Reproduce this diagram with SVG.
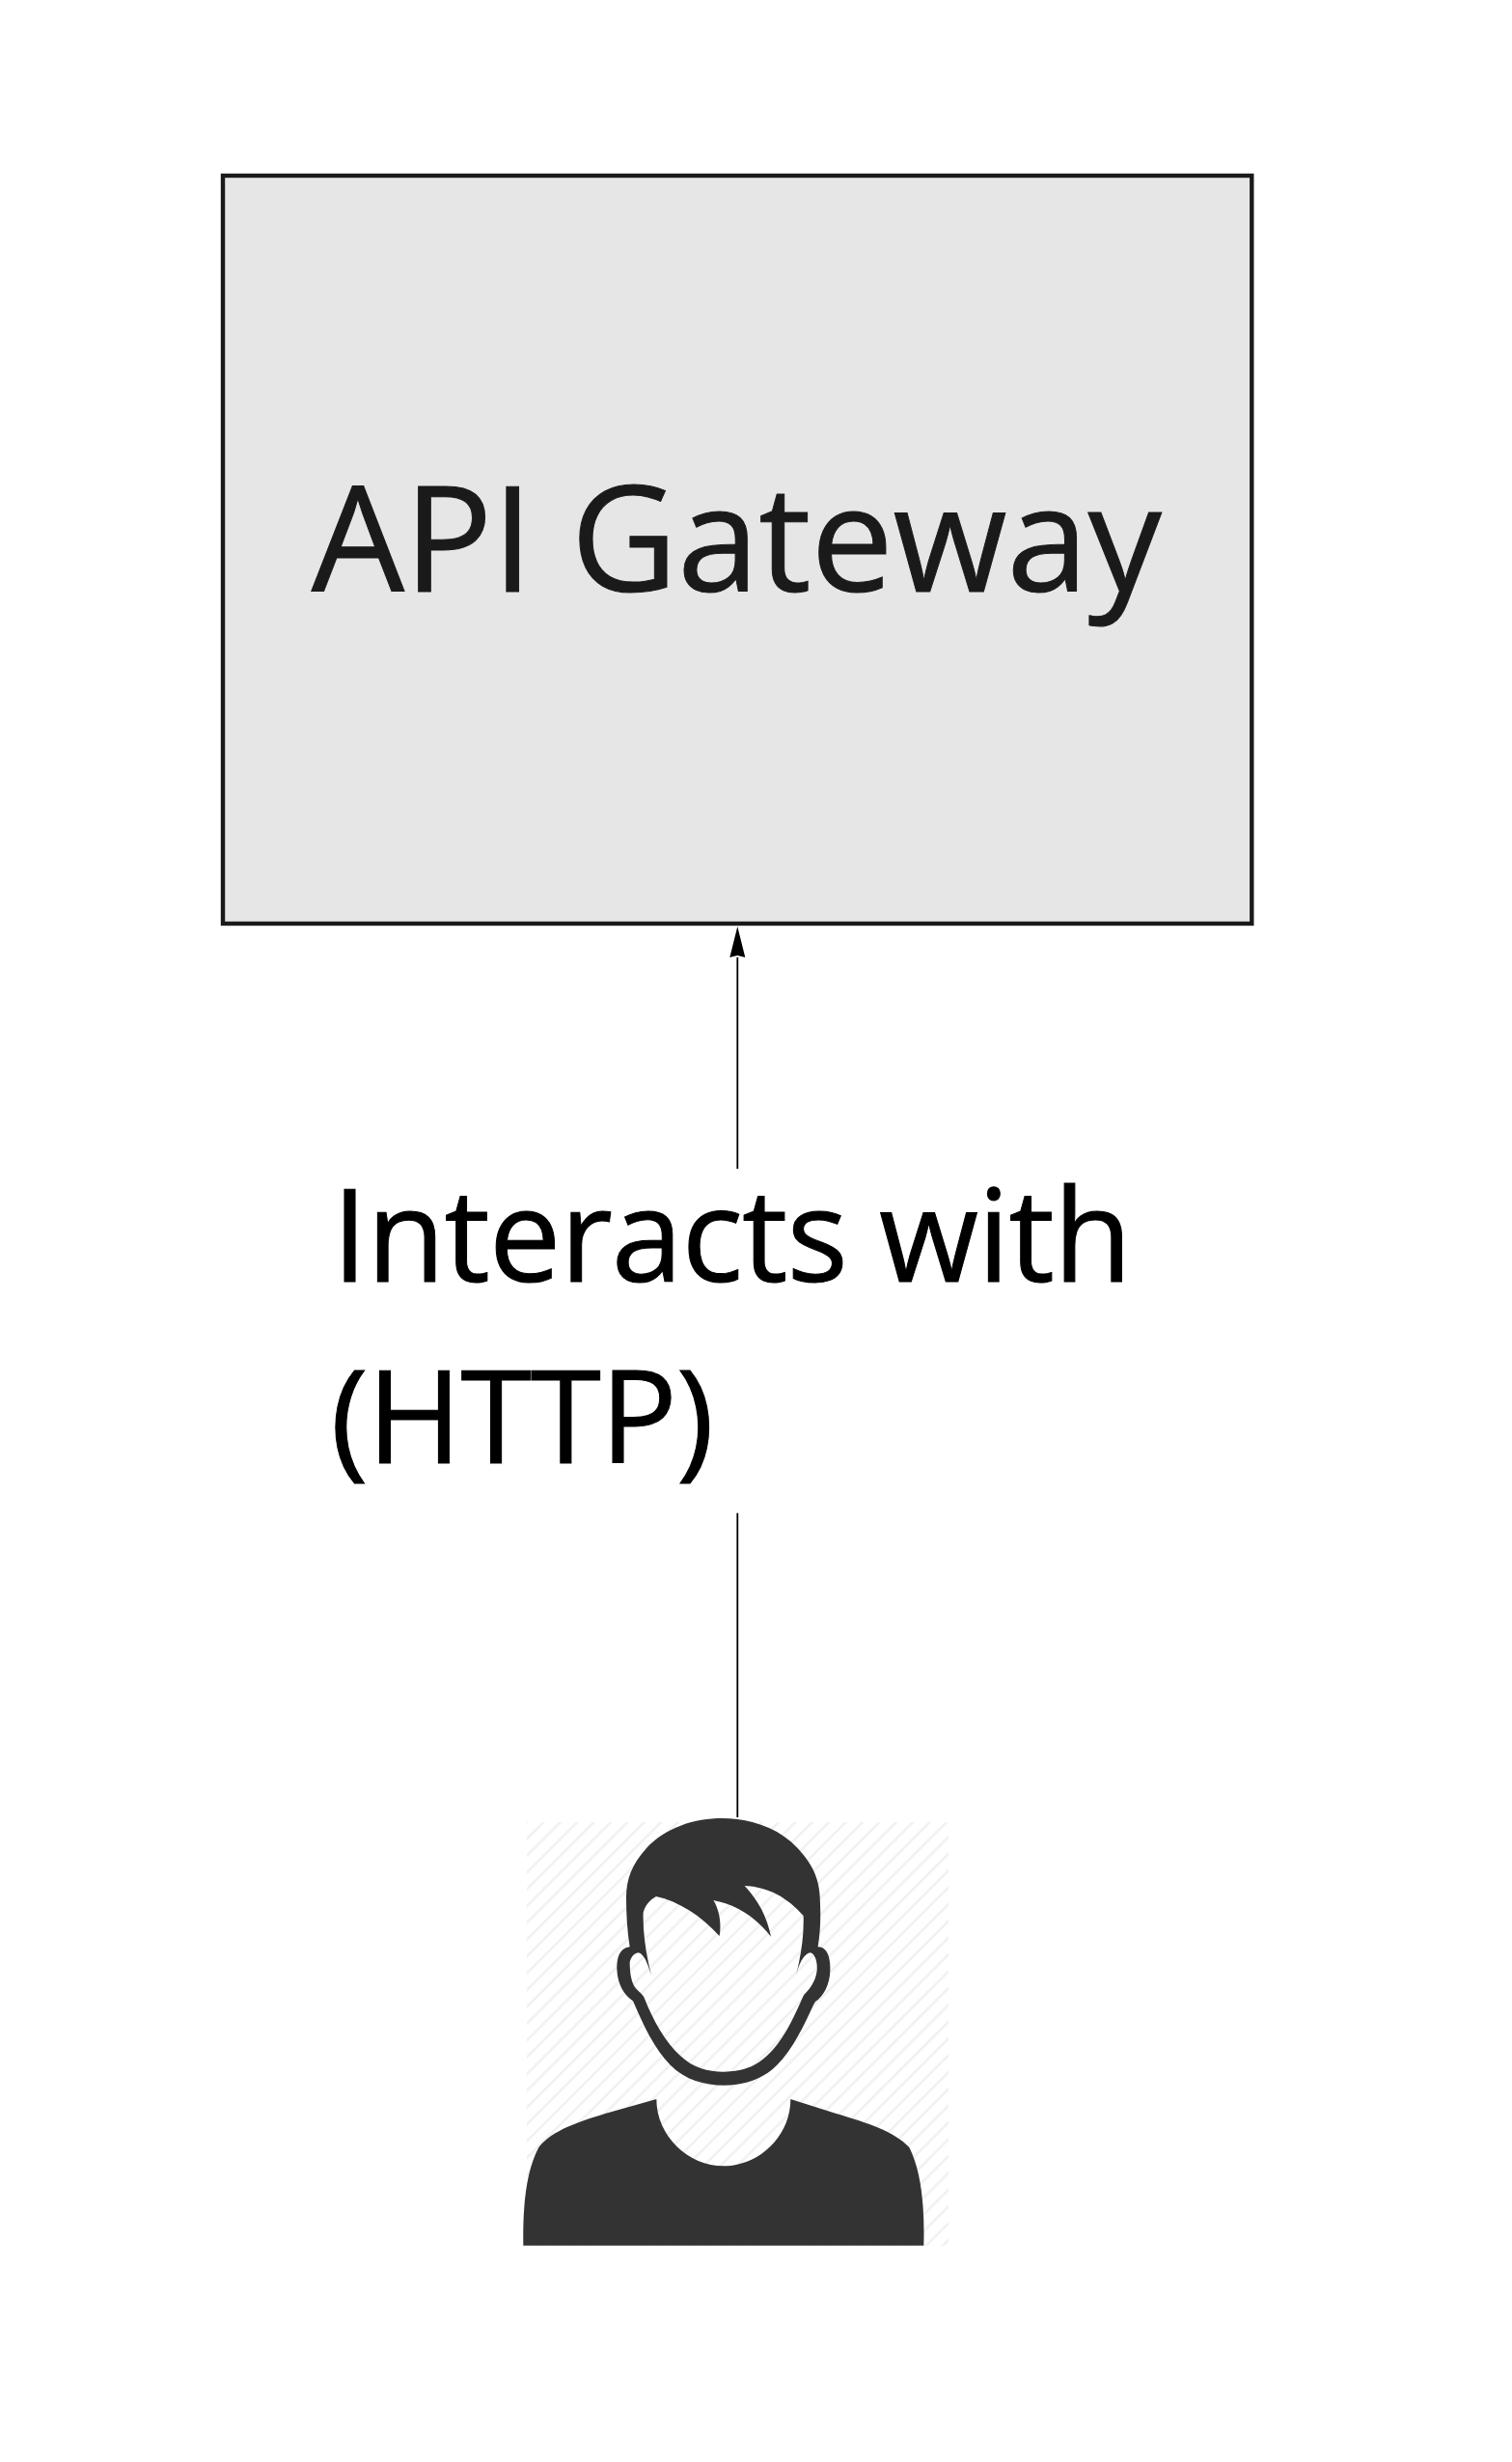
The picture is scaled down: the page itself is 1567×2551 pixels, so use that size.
<svg xmlns="http://www.w3.org/2000/svg" width="1567" height="2551" viewBox="0 0 1567 2551">
<style>
.box{fill:#e6e6e6;stroke:#1a1a1a;stroke-width:4.4}
.title{font-family:"Open Sans","Noto Sans",sans-serif;font-size:152.5px;letter-spacing:-.4px;fill:#1a1a1a;stroke:#1a1a1a;stroke-width:1}
.lbl{font-family:"Open Sans","Noto Sans",sans-serif;font-size:133px;letter-spacing:-1.1px;fill:#000;stroke:#000;stroke-width:1}
.edge{fill:none;stroke:#000;stroke-width:1.8}
.ink{fill:#333;fill-rule:evenodd}
</style>
<defs>
<pattern id="hatch" width="17.4" height="17.4" patternUnits="userSpaceOnUse" patternTransform="translate(546 1888)"><path d="M-2 19.4L19.4 -2M-2 2L2 -2M15.4 19.4L19.4 15.4" stroke="#f1f1f1" stroke-width="2.6" fill="none"/></pattern>
</defs>
<rect width="1567" height="2551" fill="#fff"/>
<g id="api-gateway">
<rect class="box" x="231" y="182" width="1066.3" height="775"/>
<text class="title" x="322.7" y="612.7">API Gateway</text>
</g>
<g id="connectors">
<path class="edge" d="M764.3 1211V992"/>
<path d="M764.3 960L772.3 992L764.3 990L756.3 992Z" fill="#000"/>
<path class="edge" d="M764.3 1567.7V1883"/>
</g>
<g id="edge-label">
<text class="lbl" x="344" y="1328.3">Interacts with</text>
<text class="lbl" x="342.5" y="1516">(HTTP)</text>
</g>
<g id="person">
<rect x="546" y="1888" width="437" height="439" fill="url(#hatch)"/>
<g transform="translate(500 1860) scale(.33333)">
<path class="ink" d="M745 72C830 72 920 100 980 165C1035 225 1050 270 1050 340C1052 385 1050 430 1043 472C1075 472 1082 510 1081 545C1080 590 1060 625 1035 642L1030 650C1000 715 965 790 915 840C870 885 810 902 750 902C690 902 630 885 585 840C535 790 500 715 468 640C440 620 420 590 418 540C417 500 430 475 458 472C450 420 447 370 447 320C447 260 465 215 510 165C570 100 660 72 745 72ZM540 315C610 330 680 375 737 438C743 400 738 360 718 327C790 340 850 380 897 440C885 380 860 330 815 282C890 285 950 320 998 375C1000 440 990 500 975 560C985 520 1000 495 1018 490C1035 492 1042 520 1040 545C1035 580 1020 600 1000 620L995 630C965 700 930 770 885 810C845 848 800 860 750 860C700 860 655 848 615 810C570 770 530 700 503 630C495 612 480 610 470 590C460 570 458 540 458 520C462 500 475 490 485 490C505 495 515 530 525 560C510 500 498 430 500 365C505 345 520 325 540 315Z"/>
<path class="ink" d="M541 945C541 1060 640 1153 750 1153C860 1153 958 1060 958 945L1100 990C1200 1020 1280 1045 1327 1095C1365 1170 1375 1280 1372 1400L127 1400C125 1280 135 1170 175 1095C220 1040 300 1015 400 985Z"/>
</g>
</g>
</svg>
